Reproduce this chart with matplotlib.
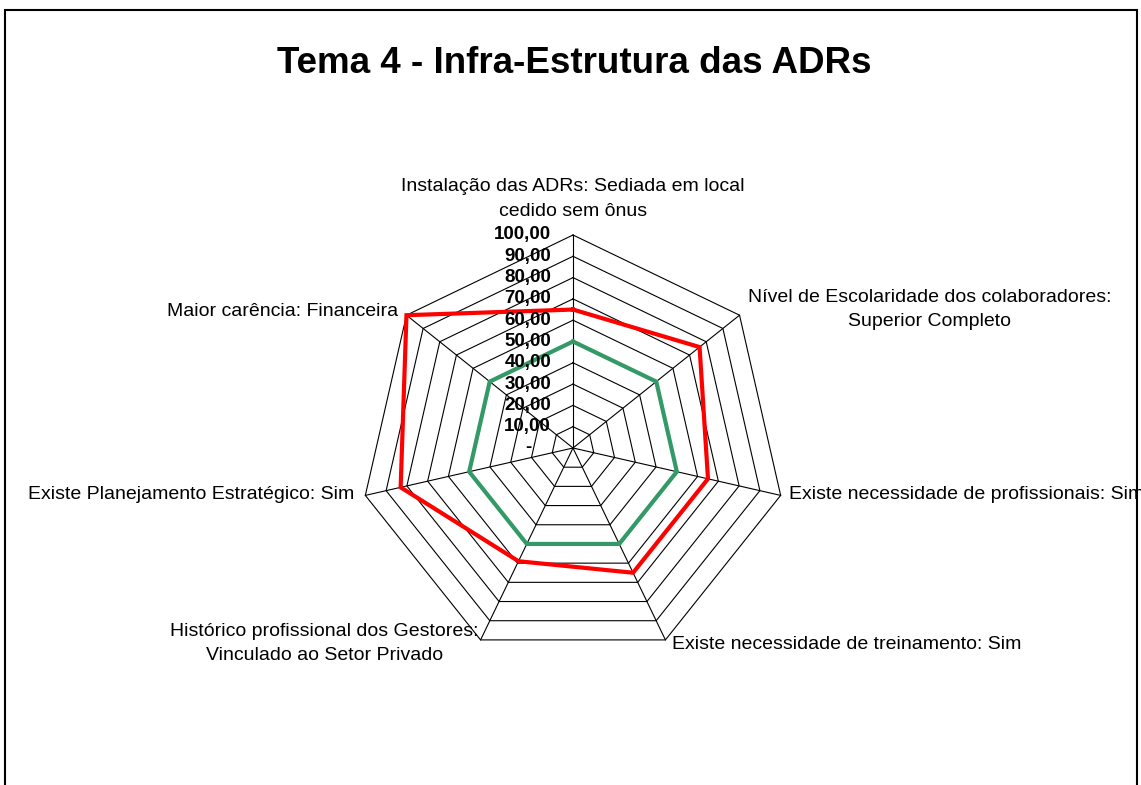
import numpy as np
import matplotlib
matplotlib.use("Agg")
import matplotlib.pyplot as plt
from matplotlib.patches import Rectangle

plt.rcParams['font.family'] = ['Liberation Sans', 'DejaVu Sans']

# --- data -------------------------------------------------------------
categories = [
    "Instalação das ADRs: Sediada em local\ncedido sem ônus",
    "Nível de Escolaridade dos colaboradores:\nSuperior Completo",
    "Existe necessidade de profissionais: Sim",
    "Existe necessidade de treinamento: Sim",
    "Histórico profissional dos Gestores:\nVinculado ao Setor Privado",
    "Existe Planejamento Estratégico: Sim",
    "Maior carência: Financeira",
]
serie_vermelha = [65, 76, 65, 65, 59, 83, 100]
serie_verde = [50, 50, 50, 50, 50, 50, 50]
niveis = [0, 10, 20, 30, 40, 50, 60, 70, 80, 90, 100]
niveis_labels = ["-", "10,00", "20,00", "30,00", "40,00", "50,00",
                 "60,00", "70,00", "80,00", "90,00", "100,00"]

# --- layout -----------------------------------------------------------
W, H = 1141, 785
S = 2.13            # pixels per data unit
cx, cy = 573, 448   # centre of the radar in pixels (from top-left)

fig = plt.figure(figsize=(W / 100, H / 100), dpi=100)
ax = fig.add_axes([0, 0, 1, 1])
ax.set_xlim(-cx / S, (W - cx) / S)
ax.set_ylim(-(H - cy) / S, cy / S)
ax.axis('off')

n = len(categories)
ang = np.deg2rad(90 - np.arange(n) * 360.0 / n)
cosa, sina = np.cos(ang), np.sin(ang)


def closed(vals):
    v = np.asarray(vals, dtype=float)
    x = v * cosa
    y = v * sina
    return np.append(x, x[0]), np.append(y, y[0])


# grid: concentric heptagons + spokes
for lv in niveis[1:]:
    gx, gy = closed([lv] * n)
    ax.plot(gx, gy, color='black', lw=0.8, zorder=1)
for i in range(n):
    ax.plot([0, 100 * cosa[i]], [0, 100 * sina[i]], color='black', lw=0.8, zorder=1)

# series
gx, gy = closed(serie_verde)
ax.plot(gx, gy, color='#339966', lw=3.0, zorder=3, solid_joinstyle='miter')
rx, ry = closed(serie_vermelha)
ax.plot(rx, ry, color='#ff0000', lw=3.0, zorder=4, solid_joinstyle='miter')

# value labels on the vertical axis
for lv, lab in zip(niveis, niveis_labels):
    xoff = -19.5 if lab == "-" else -10.3
    ax.text(xoff, lv, lab, ha='right', va='center', fontsize=13.5,
            fontweight='bold', zorder=5)

# category labels
vx, vy = 100 * cosa, 100 * sina
fs = 14
p = 1 / S
lab_cfg = [
    (0, 36 * p, 'center'),
    (8 * p, 6 * p, 'left'),
    (8 * p, 1 * p, 'left'),
    (7 * p, -5 * p, 'left'),
    (-2 * p, -4 * p, 'right'),
    (-11 * p, 1 * p, 'right'),
    (-8 * p, 4 * p, 'right'),
]
border = Rectangle((5 / W, -0.05), (1137 - 5) / W, 1.05 - 10 / H,
                   transform=fig.transFigure, fill=False, edgecolor='black',
                   lw=1.5)
fig.patches.append(border)

for i, (dx, dy, ha) in enumerate(lab_cfg):
    t = ax.text(vx[i] + dx, vy[i] + dy, categories[i], ha=ha, va='center',
                multialignment='center', fontsize=fs, linespacing=1.55)
    t.set_clip_path(border)

fig.text(574 / W, 1 - 73 / H, "Tema 4 - Infra-Estrutura das ADRs",
         ha='center', va='baseline', fontsize=26.5, fontweight='bold')

fig.savefig('out.png', dpi=100)
